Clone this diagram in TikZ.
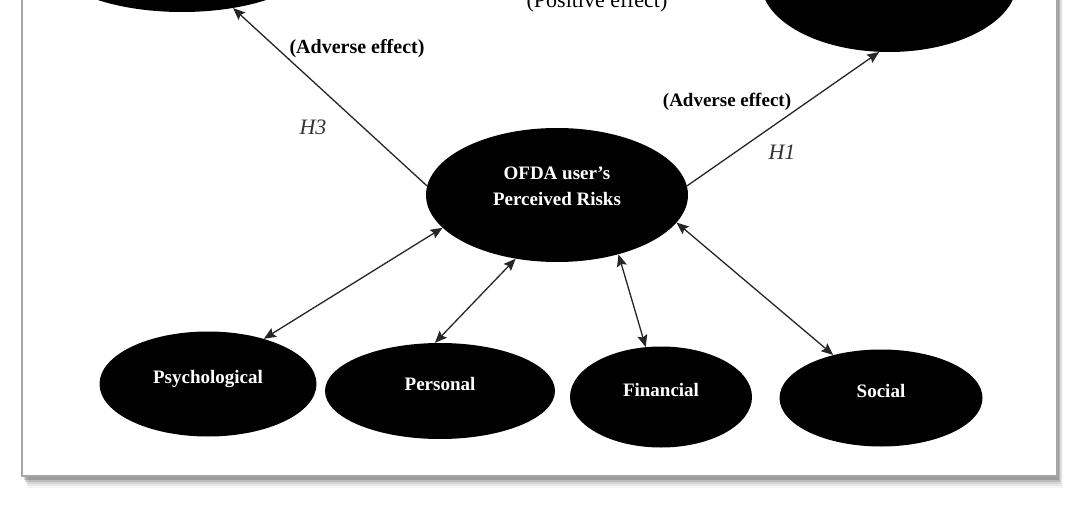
\documentclass[tikz,border=0pt]{standalone}
\usepackage{fontspec}
\setmainfont{Liberation Serif}
\usetikzlibrary{shapes.geometric,arrows.meta}

\begin{document}
\begin{tikzpicture}[x=1pt,y=-1pt,
  risk/.style={ellipse, fill=black, text=white, inner sep=0pt, font=\fontsize{19}{26}\selectfont\bfseries},
  oneline/.style={text height=12pt, text depth=13pt},
  link/.style={line width=1.3pt, draw=black!85, -{Stealth[length=12pt,width=10pt,inset=2pt]}},
  both/.style={line width=1.3pt, draw=black!85, {Stealth[length=12pt,width=10pt,inset=2pt]}-{Stealth[length=12pt,width=10pt,inset=2pt]}},
  effect/.style={font=\fontsize{20}{22}\selectfont\bfseries},
  hyp/.style={font=\fontsize{22}{24}\selectfont\itshape, text=black!80}]
\useasboundingbox (0,0) rectangle (1078,505);
\clip (0,0) rectangle (1078,505);

% frame and its shadow
\foreach \s/\o in {12/0.04, 10/0.06, 8/0.08, 6/0.12, 4/0.16}
  \fill[black, opacity=\o] (22+\s/2,-10) rectangle (1057+\s/2,476+\s);
\fill[white] (22,-10) rectangle (1057,476);
\draw[gray!70, line width=2.5pt] (22,-10) rectangle (1057,476);

% outcome constructs (cut off at the top)
\node[risk, minimum width=270, minimum height=110] (trust) at (182,-43) {};
\node[risk, minimum width=256, minimum height=140] (intent) at (889,-18) {};

% central construct
\node[risk, align=center, minimum width=262, minimum height=134, text depth=18pt] (risks) at (557,195) {OFDA user's\\Perceived Risks};

% risk dimensions
\node[risk, oneline, minimum width=217, minimum height=105] (psych) at (208,384) {Psychological};
\node[risk, oneline, minimum width=230, minimum height=96] (pers) at (440,391) {Personal};
\node[risk, oneline, minimum width=182, minimum height=101] (fin) at (661,397) {Financial};
\node[risk, oneline, minimum width=203, minimum height=97] (soc) at (881,398) {Social};

\draw[link] (risks.176) -- (trust.315);
\draw[link] (risks.4) -- (intent.262);

\draw[both] (psych.39) -- (risks.196);
\draw[both] (pers.96) -- (risks.237);
\draw[both] (fin.107) -- (risks.316);
\draw[both] (soc.138) -- (risks.347);

% labels
\node[font=\fontsize{22}{24}\selectfont, anchor=base] (pos) at (597,8) {(Positive effect)};
\node[effect] (adv3) at (357,49) {(Adverse effect)};
\node[effect, font=\fontsize{19}{22}\selectfont\bfseries] (adv1) at (727,102) {(Adverse effect)};
\node[hyp] (h3) at (313,127) {H3};
\node[hyp] (h1) at (782,152) {H1};
\end{tikzpicture}
\end{document}
